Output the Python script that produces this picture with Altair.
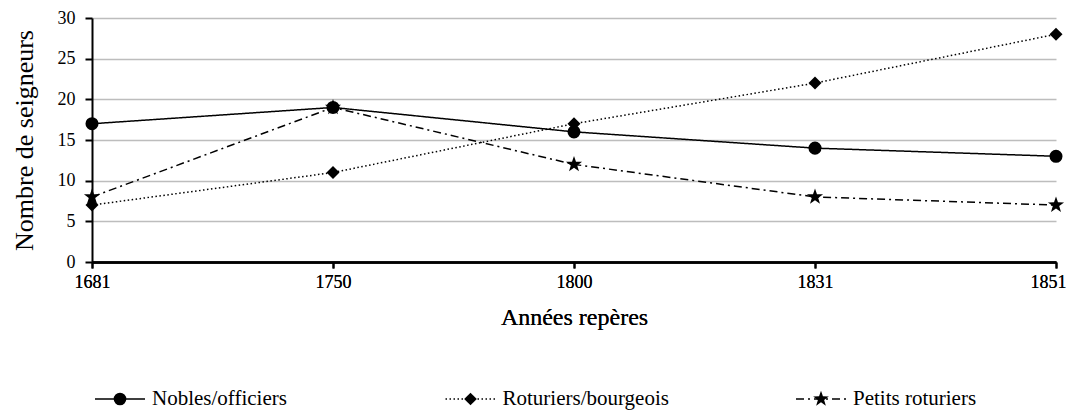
import altair as alt
import pandas as pd

years = ["1681", "1750", "1800", "1831", "1851"]
series = ["Nobles/officiers", "Roturiers/bourgeois", "Petits roturiers"]
nobles = [17, 19, 16, 14, 13]
roturiers = [7, 11, 17, 22, 28]
petits = [8, 19, 12, 8, 7]

rows = []
for s, vals in zip(series, [nobles, roturiers, petits]):
    for y, v in zip(years, vals):
        rows.append({"year": y, "value": v, "series": s})
df = pd.DataFrame(rows)
leg = pd.DataFrame({"series": series})

FONT = "Liberation Serif"

STAR = ("M0,-1.3L0.306,-0.421L1.236,-0.402L0.494,0.161L0.764,1.052L0,0.52"
        "L-0.764,1.052L-0.494,0.161L-1.236,-0.402L-0.306,-0.421Z")

dash_scale = alt.Scale(domain=series, range=[[1, 0], [1.5, 2.5], [8, 4, 2, 4]])
shape_scale = alt.Scale(domain=series, range=["circle", "diamond", STAR])

x_enc = alt.X(
    "year:O", sort=years, scale=alt.Scale(padding=0),
    axis=alt.Axis(title="Années repères", labelAngle=0, labelFont=FONT, labelFontSize=18,
                  labelColor="black", labelPadding=5, titleFont=FONT, titleFontSize=24,
                  titleFontWeight="normal", titleColor="black", titlePadding=14,
                  labelOffset={"condition": {"test": "datum.value === '1851'", "value": -8},
                               "value": 0},
                  domainColor="black", domainWidth=2.5, tickColor="black", tickWidth=2,
                  tickSize=6, grid=False, orient="bottom"),
)
y_enc = alt.Y(
    "value:Q", scale=alt.Scale(domain=[0, 30], nice=False),
    axis=alt.Axis(title="Nombre de seigneurs", values=[0, 5, 10, 15, 20, 25, 30],
                  labelFont=FONT, labelFontSize=18, labelColor="black", labelPadding=10,
                  titleFont=FONT, titleFontSize=26, titleFontWeight="normal",
                  titleColor="black", titlePadding=20, domainColor="black", domainWidth=2,
                  tickColor="black", tickWidth=2, tickSize=7, grid=True,
                  gridColor="#bdbdbd", gridWidth=1.5, orient="left"),
)

dash_enc = alt.StrokeDash("series:N", scale=dash_scale, legend=None)
shape_enc = alt.Shape("series:N", scale=shape_scale, legend=None)

lines = alt.Chart(df).mark_line(color="black", strokeWidth=1.5).encode(
    x=x_enc, y=y_enc, strokeDash=dash_enc, detail="series:N",
)
points = alt.Chart(df).mark_point(filled=True, color="black", opacity=1, size=170).encode(
    x=x_enc, y=y_enc, shape=shape_enc,
)

LEG_Y = 381
leg_x = alt.X("series:N", sort=series,
              scale=alt.Scale(domain=series, range=[28, 729], padding=0), axis=None)
leg_line = alt.Chart(leg).mark_point(shape="stroke", filled=False, color="black",
                                     opacity=1, size=2500, strokeWidth=1.5).encode(
    x=leg_x, y=alt.value(LEG_Y), strokeDash=dash_enc,
)
leg_pt = alt.Chart(leg).mark_point(filled=True, color="black", opacity=1, size=160).encode(
    x=leg_x, y=alt.value(LEG_Y), shape=shape_enc,
)
leg_txt = alt.Chart(leg).mark_text(align="left", baseline="middle", dx=32, font=FONT,
                                   fontSize=21, color="black").encode(
    x=leg_x, y=alt.value(LEG_Y), text="series:N",
)

chart = alt.layer(lines, points, leg_line, leg_pt, leg_txt).resolve_scale(
    x="independent"
).properties(
    width=964, height=244, background="white",
    autosize=alt.AutoSizeParams(type="none"),
    padding={"left": 84, "top": 10, "right": 11, "bottom": 148},
).configure_view(stroke=None)

chart.save("out.html", embed_options={"renderer": "svg", "actions": False})
